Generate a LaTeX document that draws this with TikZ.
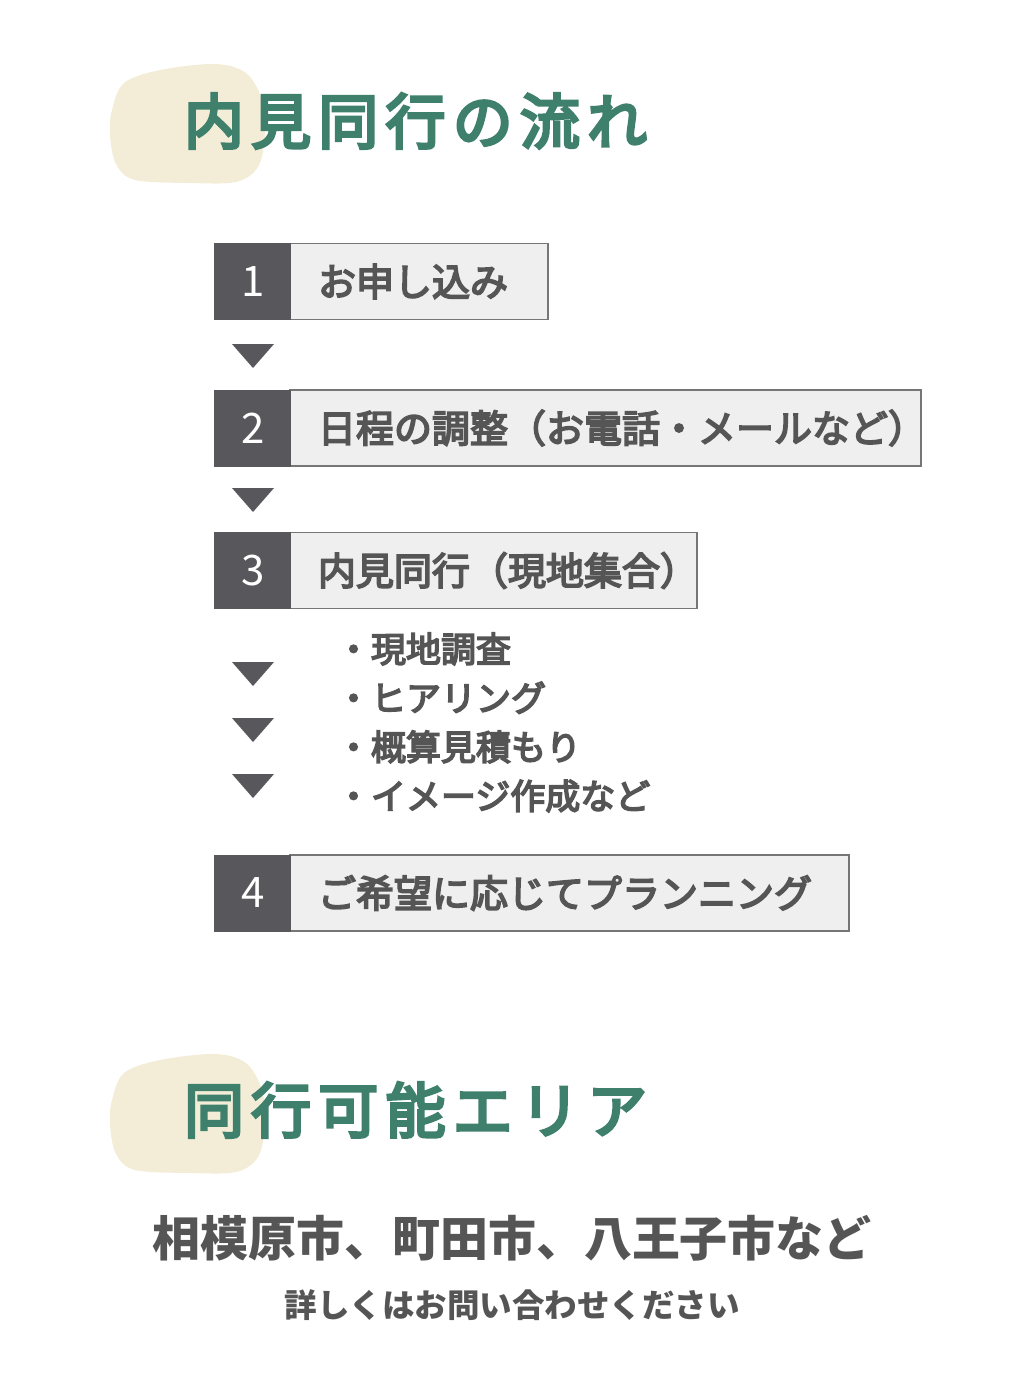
\documentclass[tikz,border=0pt]{standalone}
\usepackage{fontspec}
\newfontfamily\jp{Noto Sans CJK JP}
\newfontfamily\jpmed{Noto Sans CJK JP}[FakeBold=4.5]
\newfontfamily\jphead{Noto Sans CJK JP}[FakeBold=5, LetterSpace=12]
\usetikzlibrary{positioning}
\definecolor{titlegreen}{HTML}{3E806B}
\definecolor{blobcream}{HTML}{F3EDD8}
\definecolor{darkgray}{HTML}{58575B}
\definecolor{boxfill}{HTML}{EFEFEF}
\definecolor{boxline}{HTML}{767676}
\definecolor{txtgray}{HTML}{555555}

% cream blob behind a heading, moved down by #1
\newcommand\headblob[1]{%
  \fill[blobcream, yshift=-#1pt] plot[smooth cycle, tension=0.55] coordinates
    {(112,110) (124,83) (160,70) (215,64) (246,73) (262,100) (265,135) (258,167) (236,182) (190,183) (135,180) (116,164) (110,135)};}
% down pointing triangle centred at #1
\newcommand\downtri[1]{%
  \fill[darkgray] (#1) ++(-21,-12) -- ++(42,0) -- ++(-21,24) -- cycle;}

\begin{document}
\begin{tikzpicture}[x=1pt, y=-1pt,
    every node/.style = {inner sep=0pt, outer sep=0pt},
    heading/.style = {anchor=west, text=titlegreen, font=\jphead\fontsize{60}{60}\selectfont},
    numbox/.style = {anchor=east, fill=darkgray, draw=darkgray, minimum width=76, minimum height=76, text=white, font=\jp\fontsize{42}{42}\selectfont},
    stepbox/.style = {anchor=west, fill=boxfill, draw=boxline, line width=1.5pt, minimum height=76, inner xsep=28pt, align=left, text=txtgray, font=\jpmed\fontsize{38}{38}\selectfont}
  ]
  \useasboundingbox (0,0) rectangle (1024,1377);

  % first heading
  \headblob{0}
  \node[heading] (title1) at (184,121) {内見同行の流れ};

  % steps
  \node[stepbox, text width=202] (step1) at (290,281.5) {お申し込み};
  \node[numbox] (num1) at (290,281.5) {\hspace*{3pt}1};
  \downtri{253,356}

  \node[stepbox, text width=575] (step2) at (290,428) {日程の調整（お電話・メールなど）};
  \node[numbox] (num2) at (290,428) {\hspace*{3pt}2};
  \downtri{253,500}

  \node[stepbox, text width=351] (step3) at (290,570.5) {内見同行（現地集合）};
  \node[numbox] (num3) at (290,570.5) {\hspace*{3pt}3};

  \node[anchor=west, align=left, text=txtgray, font=\jpmed\fontsize{35}{49}\selectfont] (items) at (336,722.5)
    {・現地調査\\・ヒアリング\\・概算見積もり\\・イメージ作成など};
  \downtri{253,674}
  \downtri{253,730}
  \downtri{253,786}

  \node[stepbox, text width=503] (step4) at (290,893) {ご希望に応じてプランニング};
  \node[numbox] (num4) at (290,893) {\hspace*{3pt}4};

  % second heading
  \headblob{990}
  \node[heading] (title2) at (184,1110) {同行可能エリア};

  \node[text=txtgray, font=\jp\bfseries\fontsize{48}{48}\selectfont] (area) at (512,1238) {相模原市、町田市、八王子市など};
  \node[text=txtgray, font=\jp\bfseries\fontsize{32.5}{32.5}\selectfont] (contact) at (512,1305) {詳しくはお問い合わせください};
\end{tikzpicture}
\end{document}
